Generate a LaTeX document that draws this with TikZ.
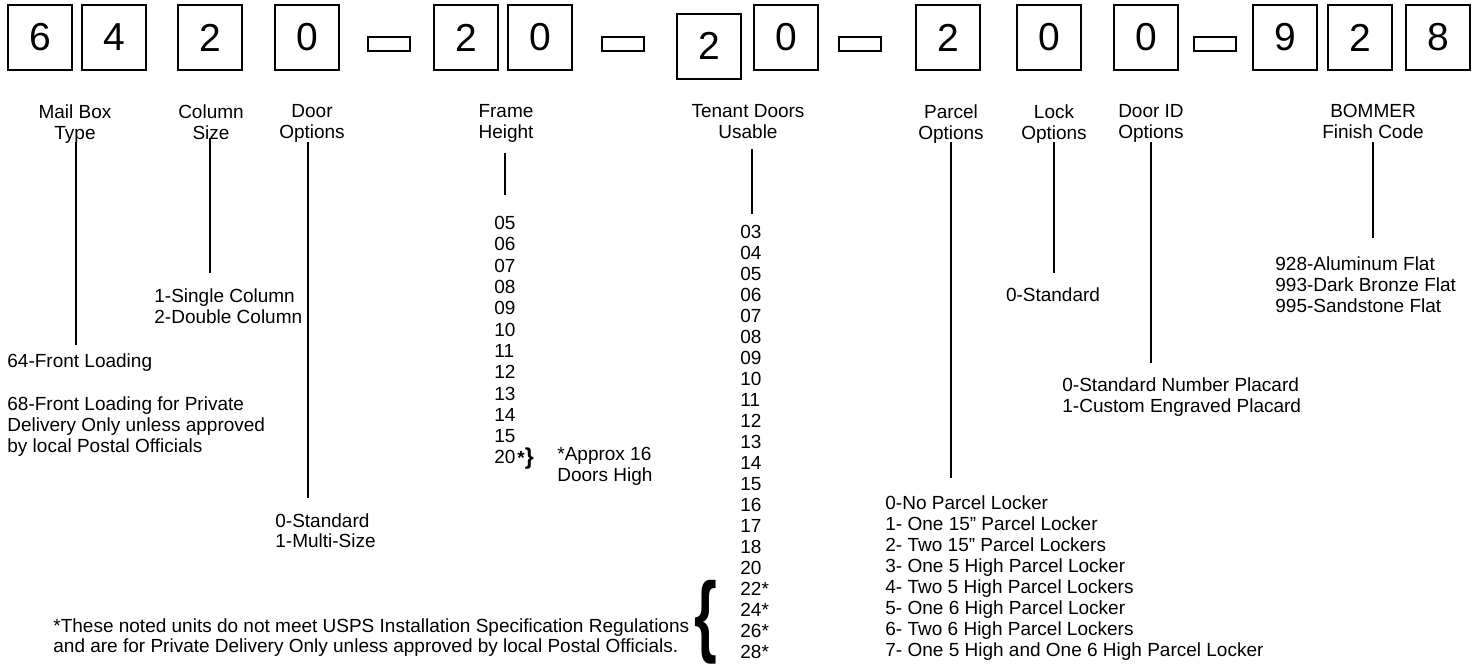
\documentclass[tikz,border=0pt]{standalone}
\usepackage{fontspec}
\usepackage{graphicx}
\setmainfont{Liberation Sans}

\tikzset{
  digitbox/.style={draw, line width=1pt, minimum width=32pt, minimum height=32.5pt, inner sep=0pt,
    font=\fontsize{19.5}{19.5}\selectfont},
  dashbox/.style={draw, line width=1pt, minimum width=21pt, minimum height=7pt, inner sep=0pt},
  lbl/.style={anchor=north, inner sep=0pt, align=center, font=\fontsize{9.5}{10.5}\selectfont},
  opt/.style={anchor=north west, inner sep=0pt, align=left, font=\fontsize{9.5}{10.5}\selectfont},
  tick/.style={line width=1.4pt}
}

\begin{document}
\begin{tikzpicture}[x=0.5pt, y=-0.5pt]
	\useasboundingbox (0,0) rectangle (1480,666);
	
	%%% code boxes
	\foreach \nm/\cx/\dg in {mbA/40/6, mbB/114/4, col/210/2, door/307/0, frA/466/2, frB/540/0,
	    tnB/786/0, prc/948/2, lck/1049/0, did/1146/0, fnA/1285/9, fnB/1360/2, fnC/1438/8}
	  \node[digitbox] (\nm) at (\cx,37.5) {\dg};
	\node[digitbox] (tnA) at (709,46) {2};
	\foreach \nm/\cx in {dashA/389, dashB/623, dashC/860, dashD/1215}
	  \node[dashbox] (\nm) at (\cx,44) {};
	
	%%% headings
	\node[lbl] (typelbl) at (75,104) {Mail Box\\Type};
	\node[lbl] (sizelbl) at (211,104) {Column\\Size};
	\node[lbl] (doorlbl) at (312,104) {Door\\Options};
	\node[lbl] (framelbl) at (506,104) {Frame\\Height};
	\node[lbl] (tenantlbl) at (748,104) {Tenant Doors\\Usable};
	\node[lbl] (parcellbl) at (951,104) {Parcel\\Options};
	\node[lbl] (locklbl) at (1054,104) {Lock\\Options};
	\node[lbl] (didlbl) at (1151,104) {Door ID\\Options};
	\node[lbl] (finishlbl) at (1373,104) {BOMMER\\Finish Code};
	
	%%% tick lines
	\coordinate (typetop) at (76,142);     \coordinate (typeend) at (76,345);
	\coordinate (sizetop) at (210,138);    \coordinate (sizeend) at (210,273);
	\coordinate (doortop) at (308,142);    \coordinate (doorend) at (308,498);
	\coordinate (frametop) at (505,153);   \coordinate (frameend) at (505,195);
	\coordinate (tenanttop) at (752,149);  \coordinate (tenantend) at (752,214);
	\coordinate (parceltop) at (951,142);  \coordinate (parcelend) at (951,478);
	\coordinate (locktop) at (1054,142);   \coordinate (lockend) at (1054,273);
	\coordinate (didtop) at (1151,142);    \coordinate (didend) at (1151,363);
	\coordinate (finishtop) at (1373,142); \coordinate (finishend) at (1373,238);
	\foreach \t in {type,size,door,frame,tenant,parcel,lock,did,finish}
	  \draw[tick] (\t top) -- (\t end);
	
	%%% choices
	\node[opt] (typeoptA) at (7,353) {64-Front Loading};
	\node[opt] (typeoptB) at (7,396) {68-Front Loading for Private\\Delivery Only unless approved\\by local Postal Officials};
	\node[opt] (sizeopt) at (154,288) {1-Single Column\\2-Double Column};
	\node[opt, font=\fontsize{9.5}{10}\selectfont] (dooropt) at (275,513) {0-Standard\\1-Multi-Size};
	
	\node[opt, font=\fontsize{9.5}{10.65}\selectfont] (framenums) at (494,216)
	  {05\\06\\07\\08\\09\\10\\11\\12\\13\\14\\15\\20};
	\node[anchor=base west, inner sep=0pt, font=\fontsize{9.5}{10.5}\selectfont\bfseries] (framestar) at (517,464)
	  {*{\fontsize{11.5}{11.5}\selectfont\}}};
	\node[opt] (approx) at (557,447) {*Approx 16\\Doors High};
	
	\node[opt] (tenantnums) at (740,225)
	  {03\\04\\05\\06\\07\\08\\09\\10\\11\\12\\13\\14\\15\\16\\17\\18\\20\\22*\\24*\\26*\\28*};
	\node[anchor=east, inner sep=0pt] (bigbrace) at (718,622)
	  {\scalebox{0.65}[1]{\fontsize{45}{45}\selectfont\bfseries\{}};
	\node[opt, font=\fontsize{9.5}{10}\selectfont] (footnote) at (53,618)
	  {*These noted units do not meet USPS Installation Specification Regulations\\and are for Private Delivery Only unless approved by local Postal Officials.};
	
	\node[opt] (parcelopt) at (885,495)
	  {0-No Parcel Locker\\1- One 15” Parcel Locker\\2- Two 15” Parcel Lockers\\3- One 5 High Parcel Locker\\4- Two 5 High Parcel Lockers\\5- One 6 High Parcel Locker\\6- Two 6 High Parcel Lockers\\7- One 5 High and One 6 High Parcel Locker};
	\node[inner sep=0pt, font=\fontsize{9.5}{10.5}\selectfont] (lockopt) at (1053,295) {0-Standard};
	\node[opt] (didopt) at (1062,377) {0-Standard Number Placard\\1-Custom Engraved Placard};
	\node[opt] (finishopt) at (1275,256) {928-Aluminum Flat\\993-Dark Bronze Flat\\995-Sandstone Flat};
\end{tikzpicture}
\end{document}
